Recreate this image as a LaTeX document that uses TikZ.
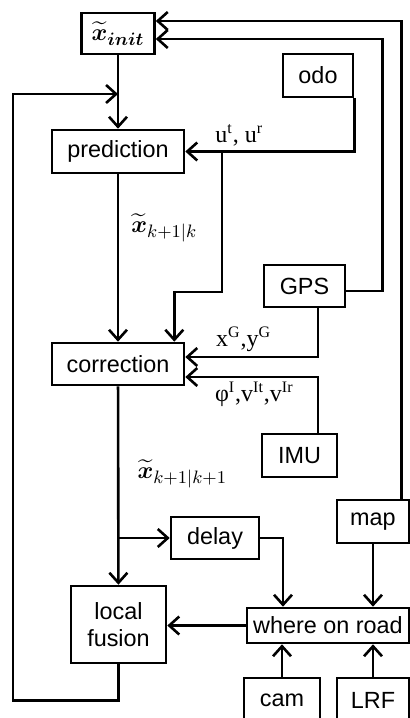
\documentclass[tikz,border=0pt]{standalone}
\usepackage{amsmath,amssymb}
\usepackage{fontspec}
\setmainfont{Liberation Sans}
\newfontfamily\serifa{Liberation Serif}
\usetikzlibrary{arrows.meta}

\begin{document}
\begin{tikzpicture}[x=0.5pt,y=-0.5pt,line width=1.3pt,
    caja/.style={draw,inner sep=0pt,font=\fontsize{11.7}{13.5}\selectfont},
    flecha/.style={-{Straight Barb[length=5pt,width=9pt]}},
    etiq/.style={font=\serifa\fontsize{12}{14}\selectfont,inner sep=2pt},
    estado/.style={font=\fontsize{13}{15}\selectfont,inner sep=2pt}]
\path[use as bounding box,clip] (0,0) rectangle (410,718); %marco de la figura
% bloques
\node[caja,minimum width=36.5pt,minimum height=20.5pt,font=\fontsize{13}{15}\selectfont] (xinit) at (118,33.5) {$\widetilde{\boldsymbol{x}}_{\boldsymbol{init}}$};
\node[caja,minimum width=35pt,minimum height=21.5pt] (odo) at (318,75.5) {odo};
\node[caja,minimum width=66pt,minimum height=21.5pt] (pred) at (118,151.5) {prediction};
\node[caja,minimum width=40.5pt,minimum height=21pt] (gps) at (304.5,286) {GPS};
\node[caja,minimum width=66pt,minimum height=21pt] (corr) at (118,364) {correction};
\node[caja,minimum width=37.5pt,minimum height=21.5pt] (imu) at (299.5,455.5) {IMU};
\node[caja,minimum width=36pt,minimum height=21.5pt] (map) at (373,521.5) {map};
\node[caja,minimum width=44pt,minimum height=21pt] (delay) at (215,538) {delay};
\node[caja,minimum width=81pt,minimum height=17.5pt] (where) at (328,625.5) {where on road};
\node[caja,minimum width=47.5pt,minimum height=38.5pt,align=center] (fusion) at (118.5,624.5) {local\\fusion};
\node[caja,minimum width=38pt,minimum height=22pt] (cam) at (282,700) {cam};
\node[caja,minimum width=36pt,minimum height=22pt] (lrf) at (373,700) {LRF};
% puntos de ramificacion
\coordinate (ubr) at (222,151.5); %rama de u
\coordinate (dbr) at (118,538); %rama hacia delay
\coordinate (fb) at (118,94); %llegada de la realimentacion
% conexiones
\draw[flecha] (xinit) -- (pred);
\draw[flecha] (odo.south east) |- node[etiq,pos=0.84,above] {u\textsuperscript{t}, u\textsuperscript{r}} (pred.east);
\draw[flecha] (ubr) -- (222,292) -| ([xshift=-5.5pt]corr.north east);
\draw[flecha] (pred) -- node[estado,pos=0.32,right,xshift=4pt] {$\widetilde{\boldsymbol{x}}_{k+1|k}$} (corr);
\draw[flecha] ([yshift=-2.5pt]gps.east) -- ++(36,0) |- ([yshift=-2.75pt]xinit.east);
\draw[flecha] ([xshift=-4.5pt]map.north east) |- ([yshift=6.25pt]xinit.east);
\draw[flecha] ([xshift=6.75pt]gps.south) |- node[etiq,pos=0.78,above] {x\textsuperscript{G},y\textsuperscript{G}} ([yshift=3.5pt]corr.east);
\draw[flecha] ([xshift=9.25pt]imu.north) |- node[etiq,pos=0.74,below] {φ\textsuperscript{I},v\textsuperscript{It},v\textsuperscript{Ir}} ([yshift=-6.5pt]corr.east);
\draw[flecha] (corr) -- node[estado,pos=0.44,right,xshift=7pt] {$\widetilde{\boldsymbol{x}}_{k+1|k+1}$} (fusion);
\draw[flecha] (dbr) -- (delay.west);
\draw[flecha] (delay.east) -| ([xshift=-22.5pt]where.north);
\draw[flecha] (map.south) -- (map.south |- where.north);
\draw[flecha] (cam.north) -- (cam.north |- where.south);
\draw[flecha] (lrf.north) -- (lrf.north |- where.south);
\draw[flecha] (where.west) -- (where.west -| fusion.east);
\draw[flecha] (fusion.south) -- ++(0,36) -| (13,94) -- (fb); %realimentacion
\end{tikzpicture}
\end{document}
